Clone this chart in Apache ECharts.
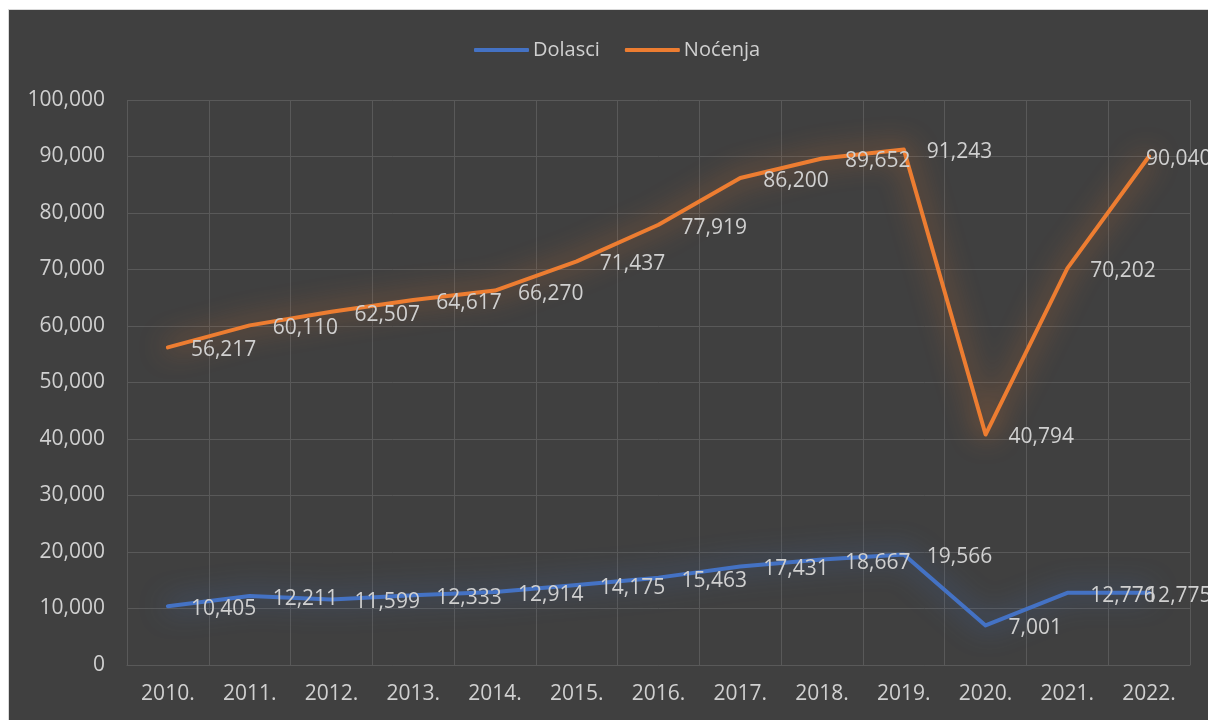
<!DOCTYPE html>
<html>
<head>
<meta charset="utf-8">
<script src="https://cdn.jsdelivr.net/npm/echarts@6/dist/echarts.min.js"></script>
<style>
html,body{margin:0;padding:0;background:#ffffff;width:1208px;height:720px;overflow:hidden;}
#frame{position:absolute;left:8px;top:9px;width:1200px;height:711px;background:#d9d9d9;}
#chart{position:absolute;left:9px;top:10px;width:1199px;height:710px;}
</style>
</head>
<body>
<div id="frame"></div>
<div id="chart"></div>
<script>
const categories = ['2010.','2011.','2012.','2013.','2014.','2015.','2016.','2017.','2018.','2019.','2020.','2021.','2022.'];
const dolasci = [10405, 12211, 11599, 12333, 12914, 14175, 15463, 17431, 18667, 19566, 7001, 12776, 12775];
const nocenja = [56217, 60110, 62507, 64617, 66270, 71437, 77919, 86200, 89652, 91243, 40794, 70202, 90040];
const seriesNames = ['Dolasci', 'Noćenja'];
const yTicks = {min: 0, max: 100000, interval: 10000};

const FONT = '"Open Sans", "Noto Sans", sans-serif';
const TXT = '#d0d0d0';

function toData(arr){
  return arr.map((v, i) => {
    if (i === arr.length - 1) {
      return {value: v, label: {distance: -3}};
    }
    return v;
  });
}

function makeSeries(name, arr, color, glow){
  return {
    name: name,
    type: 'line',
    data: toData(arr),
    symbol: 'circle',
    symbolSize: 0,
    showSymbol: true,
    itemStyle: {color: color},
    lineStyle: {width: 4, color: color, shadowBlur: 28, shadowColor: glow, cap: 'round', join: 'round'},
    label: {
      show: true,
      position: 'right',
      distance: 23,
      offset: [0, 3],
      color: TXT,
      fontFamily: FONT,
      fontSize: 21,
      formatter: p => Number(p.value).toLocaleString('en-US')
    },
    emphasis: {disabled: true},
    animation: false,
    z: 3
  };
}

const chart = echarts.init(document.getElementById('chart'), null, {renderer: 'canvas'});
chart.setOption({
  backgroundColor: '#404040',
  animation: false,
  legend: {
    left: 460,
    top: 25,
    itemWidth: 55,
    itemHeight: 4,
    itemGap: 25,
    icon: 'roundRect',
    textStyle: {color: TXT, fontFamily: FONT, fontSize: 20, padding: [0,0,0,-1]},
    data: seriesNames
  },
  grid: {left: 118, right: 18, top: 90, bottom: 55, containLabel: false},
  xAxis: {
    type: 'category',
    data: categories,
    boundaryGap: true,
    axisLine: {show: true, lineStyle: {color: '#595959', width: 1}},
    axisTick: {show: false},
    splitLine: {show: true, lineStyle: {color: '#595959', width: 1}},
    axisLabel: {color: TXT, fontFamily: FONT, fontSize: 21, margin: 19, interval: 0}
  },
  yAxis: {
    type: 'value',
    min: yTicks.min,
    max: yTicks.max,
    interval: yTicks.interval,
    axisLine: {show: false},
    axisTick: {show: false},
    splitLine: {show: true, lineStyle: {color: '#595959', width: 1}},
    axisLabel: {color: TXT, fontFamily: FONT, fontSize: 21, margin: 22,
      formatter: v => Number(v).toLocaleString('en-US')}
  },
  series: [
    makeSeries(seriesNames[0], dolasci, '#4472C4', 'rgba(68,114,196,0.9)'),
    makeSeries(seriesNames[1], nocenja, '#ED7D31', 'rgba(237,125,49,0.9)')
  ]
});
</script>
</body>
</html>
